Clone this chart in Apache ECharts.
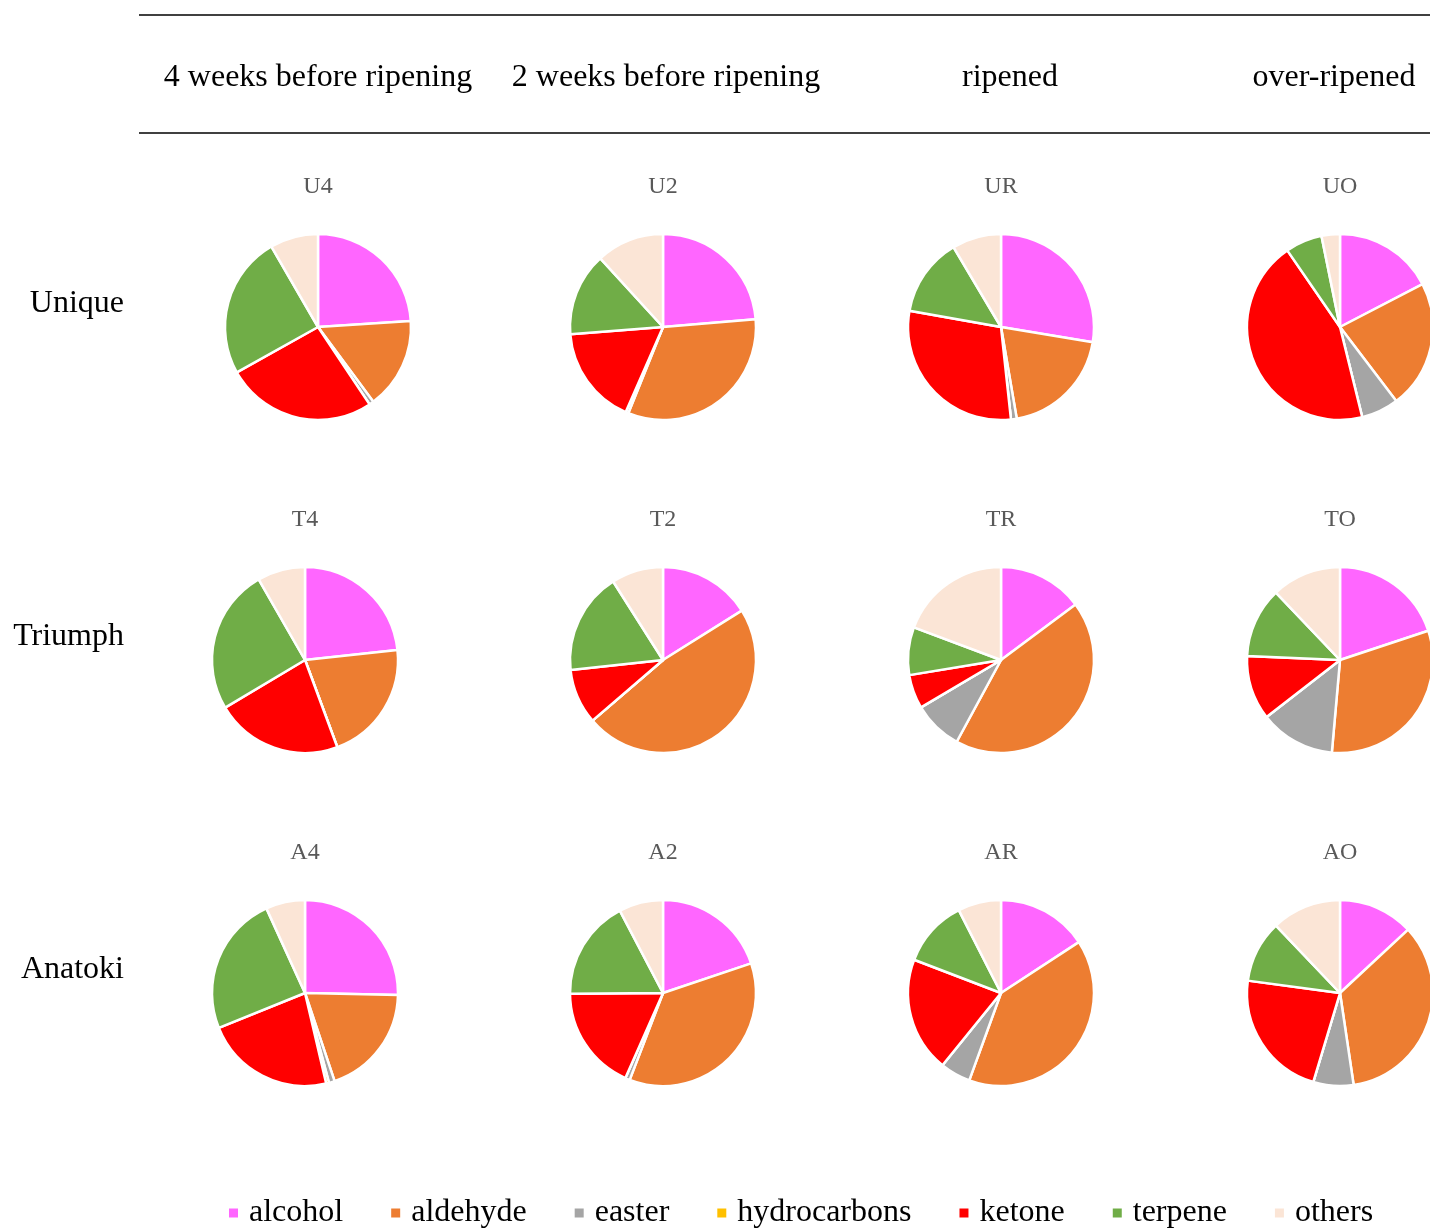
<!DOCTYPE html>
<html>
<head>
<meta charset="utf-8">
<title>Volatile compound classes by ripening stage</title>
<script src="https://cdn.jsdelivr.net/npm/echarts@6/dist/echarts.min.js"></script>
<style>
  html, body { margin: 0; padding: 0; background: #fff; }
  #chart { width: 1430px; height: 1230px; }
</style>
</head>
<body>
<div id="chart"></div>
<script>
// Compound classes (slice order, clockwise from 12 o'clock)
const categories = ['alcohol', 'aldehyde', 'easter', 'hydrocarbons', 'ketone', 'terpene', 'others'];
const classColors = ['#FF66FF', '#ED7D31', '#A5A5A5', '#FFC000', '#FF0000', '#70AD47', '#FBE5D6'];

// Ripening stages (columns) and cultivars (rows)
const stages = ['4 weeks before ripening', '2 weeks before ripening', 'ripened', 'over-ripened'];
const cultivars = ['Unique', 'Triumph', 'Anatoki'];

// Relative share (%) of each compound class per sample
const U4 = [24.1, 16.0, 0.8, 0, 26.4, 24.9, 8.4];
const U2 = [23.7, 32.5, 0.5, 0, 17.2, 14.5, 11.8];
const UR = [27.5, 19.6, 1.0, 0, 29.4, 13.6, 8.5];
const UO = [17.4, 22.3, 6.5, 0, 44.3, 6.4, 3.2];
const T4 = [23.3, 21.1, 0, 0, 22.1, 25.3, 8.3];
const T2 = [16.1, 47.6, 0, 0, 9.6, 17.7, 9.0];
const TR = [14.8, 43.1, 8.6, 0, 5.9, 8.3, 19.3];
const TO = [19.9, 31.5, 13.1, 0, 11.2, 12.2, 12.1];
const A4 = [25.3, 19.5, 1.0, 0.5, 22.5, 24.3, 6.8];
const A2 = [19.9, 36.1, 0.8, 0, 18.3, 17.5, 7.7];
const AR = [15.8, 39.8, 5.3, 0, 20.0, 11.7, 7.5];
const AO = [13.1, 34.6, 7.0, 0, 22.5, 10.8, 12.1];

const sampleNames = [
  ['U4', 'U2', 'UR', 'UO'],
  ['T4', 'T2', 'TR', 'TO'],
  ['A4', 'A2', 'AR', 'AO']
];
const sampleValues = [
  [U4, U2, UR, UO],
  [T4, T2, TR, TO],
  [A4, A2, AR, AO]
];

// Layout
const FONT = "'Liberation Serif', 'Times New Roman', serif";
const colX = [[318, 663, 1001, 1340], [305, 663, 1001, 1340], [305, 663, 1001, 1340]];
const rowY = [327, 660, 993];
const titleY = [182, 515, 848];
const pieR = 93;
const headerX = [318, 666, 1010, 1334];

const chart = echarts.init(document.getElementById('chart'), null, { renderer: 'canvas' });

const series = [];
const titles = [];
sampleNames.forEach((row, r) => {
  row.forEach((name, c) => {
    const vals = sampleValues[r][c];
    series.push({
      type: 'pie',
      name: name,
      center: [colX[r][c], rowY[r]],
      radius: [0, pieR],
      startAngle: 90,
      clockwise: true,
      avoidLabelOverlap: false,
      label: { show: false },
      labelLine: { show: false },
      emphasis: { disabled: true },
      itemStyle: { borderColor: '#ffffff', borderWidth: 2.5 },
      data: categories.map((cat, i) => ({
        name: cat,
        value: vals[i],
        itemStyle: { color: classColors[i] }
      }))
    });
    titles.push({
      text: name,
      left: colX[r][c] - 5,
      top: titleY[r],
      textAlign: 'center',
      textVerticalAlign: 'middle',
      textStyle: { fontFamily: FONT, fontSize: 24, fontWeight: 'normal', color: '#595959' }
    });
  });
});

const graphics = [
  { type: 'line', shape: { x1: 139, y1: 15, x2: 1430, y2: 15 }, style: { stroke: '#000', lineWidth: 1.5 } },
  { type: 'line', shape: { x1: 139, y1: 133, x2: 1430, y2: 133 }, style: { stroke: '#000', lineWidth: 1.5 } }
];
stages.forEach((s, i) => {
  graphics.push({
    type: 'text',
    x: headerX[i], y: 78,
    style: { text: s, fill: '#000', font: '32px ' + FONT, textAlign: 'center', textVerticalAlign: 'middle' }
  });
});
cultivars.forEach((cv, i) => {
  graphics.push({
    type: 'text',
    x: 124, y: rowY[i] - 23,
    style: { text: cv, fill: '#000', font: '32px ' + FONT, textAlign: 'right', textVerticalAlign: 'middle' }
  });
});

chart.setOption({
  backgroundColor: '#ffffff',
  animation: false,
  title: titles,
  legend: {
    data: categories,
    left: 222,
    top: 1192,
    icon: 'rect',
    itemWidth: 11,
    itemHeight: 11,
    itemGap: 46,
    textStyle: { fontFamily: FONT, fontSize: 32, color: '#000', padding: [0, 0, 0, 5] }
  },
  graphic: graphics,
  series: series
});
</script>
</body>
</html>
